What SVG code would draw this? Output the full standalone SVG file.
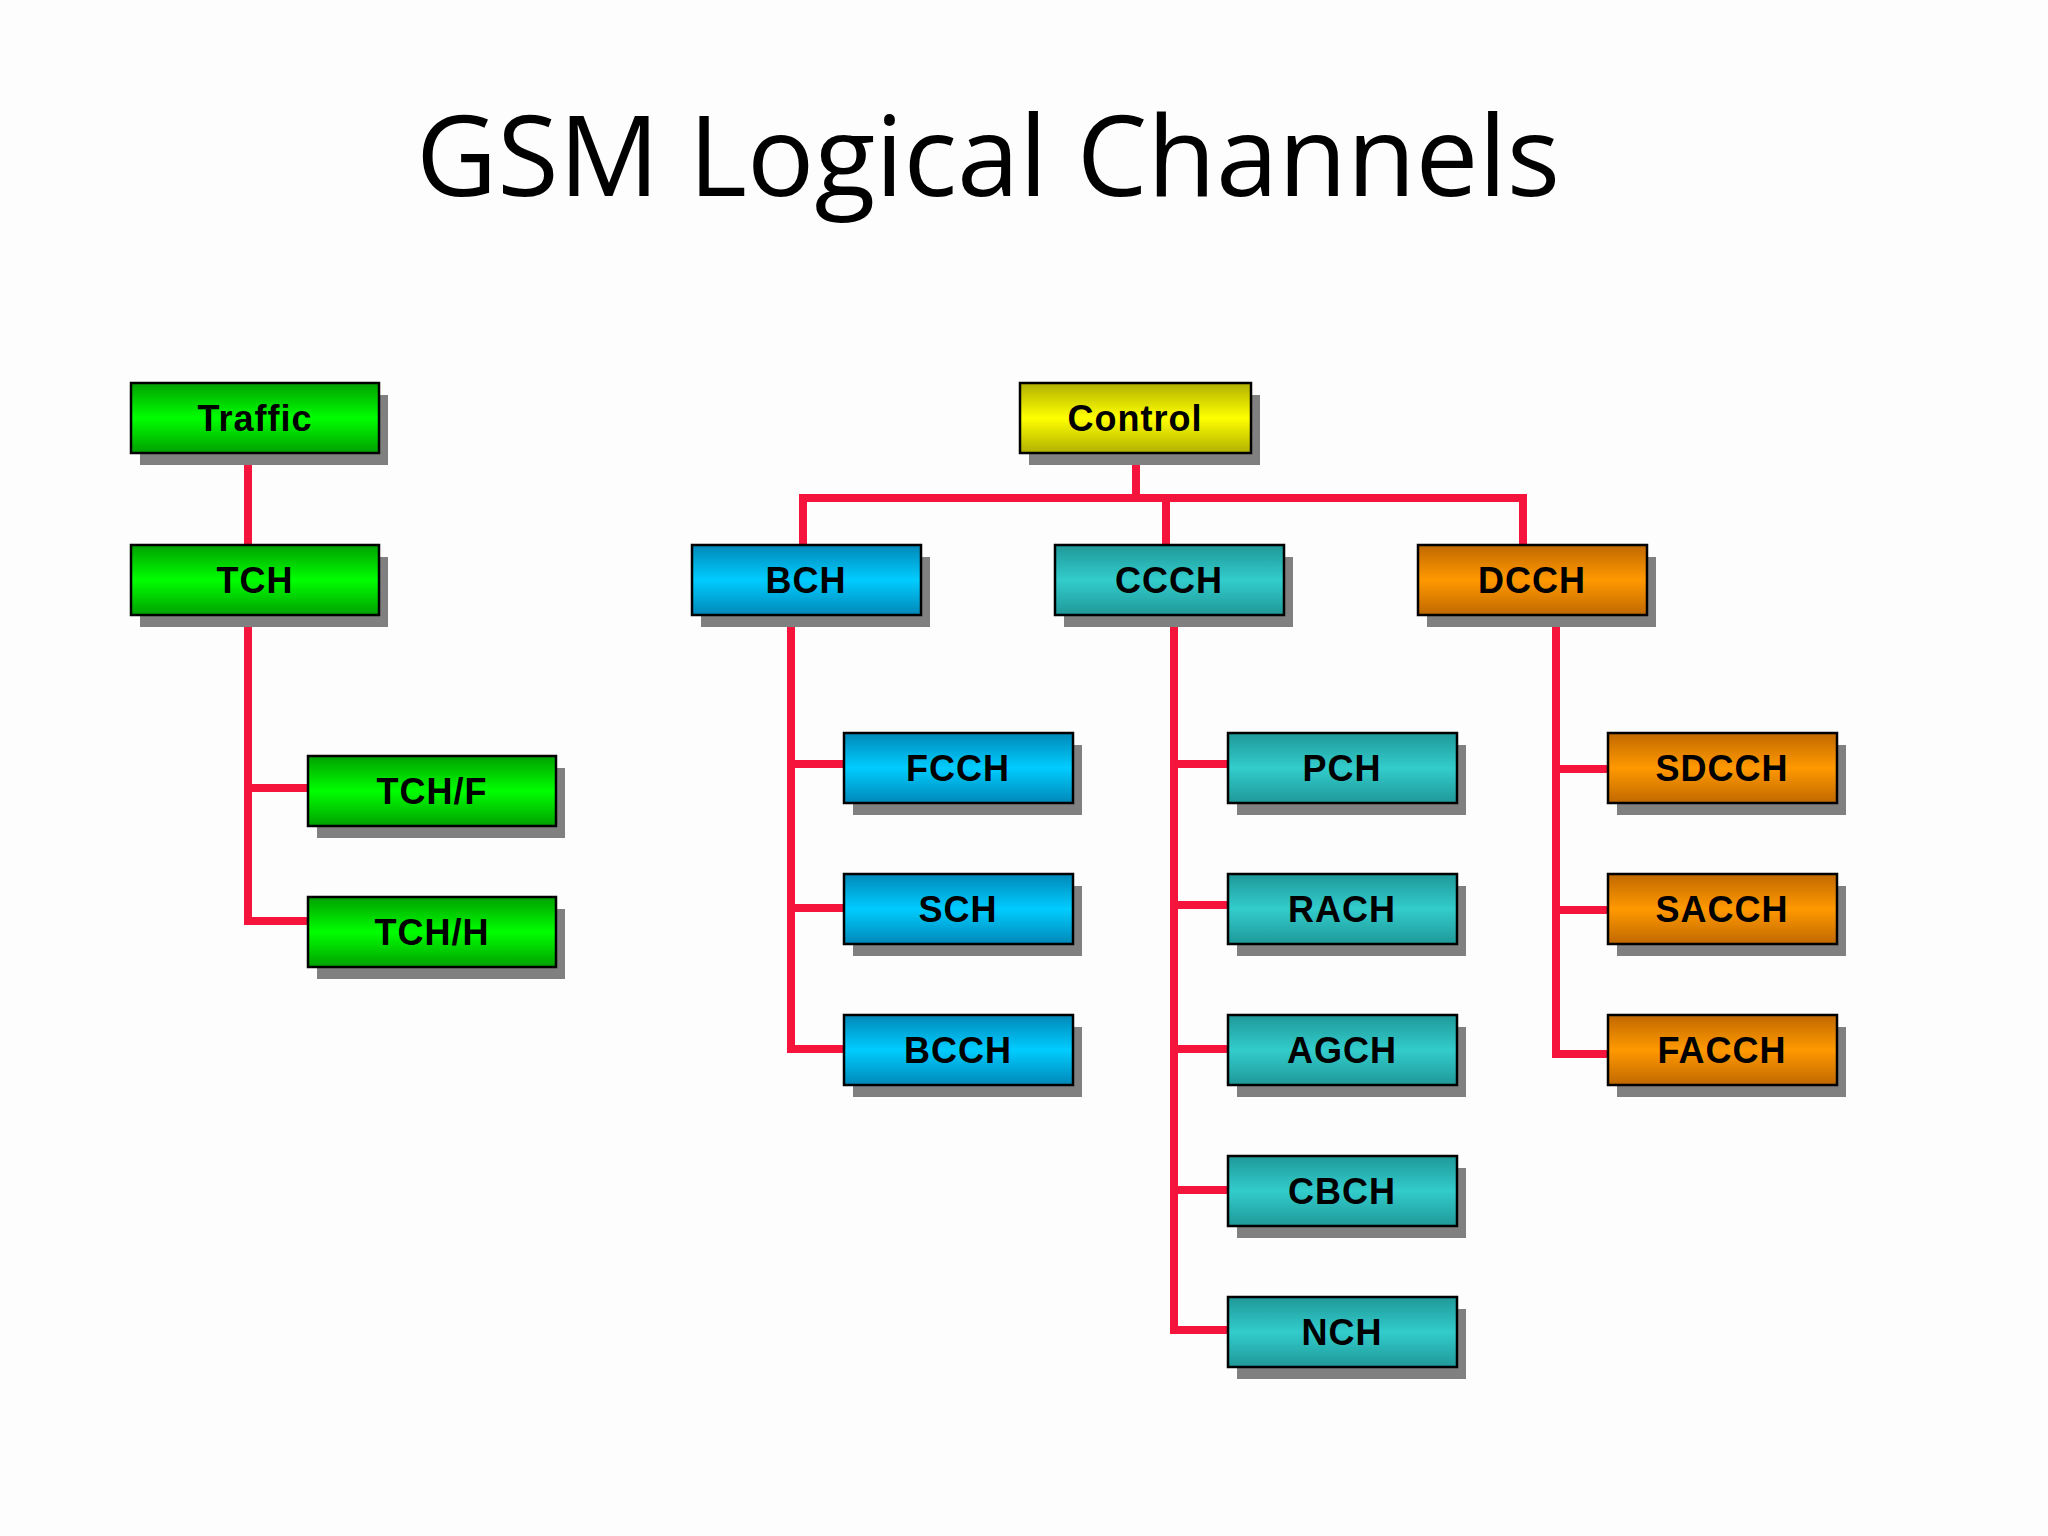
<svg xmlns="http://www.w3.org/2000/svg" width="2048" height="1536" viewBox="0 0 2048 1536">
<defs>
<linearGradient id="gG" x1="0" y1="0" x2="0" y2="1"><stop offset="0" stop-color="#00a000"/><stop offset="0.5" stop-color="#00ff00"/><stop offset="1" stop-color="#00a000"/></linearGradient>
<linearGradient id="gY" x1="0" y1="0" x2="0" y2="1"><stop offset="0" stop-color="#b0b000"/><stop offset="0.5" stop-color="#ffff00"/><stop offset="1" stop-color="#b0b000"/></linearGradient>
<linearGradient id="gB" x1="0" y1="0" x2="0" y2="1"><stop offset="0" stop-color="#0088b8"/><stop offset="0.5" stop-color="#00ccff"/><stop offset="1" stop-color="#0088b8"/></linearGradient>
<linearGradient id="gT" x1="0" y1="0" x2="0" y2="1"><stop offset="0" stop-color="#1f9898"/><stop offset="0.5" stop-color="#33cccc"/><stop offset="1" stop-color="#1f9898"/></linearGradient>
<linearGradient id="gO" x1="0" y1="0" x2="0" y2="1"><stop offset="0" stop-color="#c06800"/><stop offset="0.5" stop-color="#ff9900"/><stop offset="1" stop-color="#c06800"/></linearGradient>
</defs>
<style>
.sh{fill:#808080}
.bx{stroke:#000;stroke-width:2.5}
.lb{font-family:"Liberation Sans",Arial,sans-serif;font-weight:bold;font-size:36px;text-anchor:middle;fill:#000;letter-spacing:1px}
.c{fill:none;stroke:#f5153c;stroke-width:8}
</style>
<rect width="2048" height="1536" fill="#fdfdfd"/>
<text x="988" y="196" font-family="'Open Sans','DejaVu Sans',sans-serif" font-size="112" text-anchor="middle" fill="#000">GSM Logical Channels</text>
<g id="connectors">
<path class="c" d="M248 453V545M248 615V921H308M248 788H308"/>
<path class="c" d="M1136 453V498M803 545V498H1523V545M1166 498V545"/>
<path class="c" d="M791 615V1049H844M791 764H844M791 908H844"/>
<path class="c" d="M1174 615V1330H1228M1174 764H1228M1174 905H1228M1174 1049H1228M1174 1190H1228"/>
<path class="c" d="M1556 615V1054H1608M1556 769H1608M1556 910H1608"/>
</g>
<g id="traffic"><rect class="sh" x="140" y="395" width="248" height="70"/><rect class="bx" x="131" y="383" width="248" height="70" fill="url(#gG)"/><text class="lb" x="255" y="431">Traffic</text></g>
<g id="tch"><rect class="sh" x="140" y="557" width="248" height="70"/><rect class="bx" x="131" y="545" width="248" height="70" fill="url(#gG)"/><text class="lb" x="255" y="593">TCH</text></g>
<g id="tchf"><rect class="sh" x="317" y="768" width="248" height="70"/><rect class="bx" x="308" y="756" width="248" height="70" fill="url(#gG)"/><text class="lb" x="432" y="804">TCH/F</text></g>
<g id="tchh"><rect class="sh" x="317" y="909" width="248" height="70"/><rect class="bx" x="308" y="897" width="248" height="70" fill="url(#gG)"/><text class="lb" x="432" y="945">TCH/H</text></g>
<g id="control"><rect class="sh" x="1029" y="395" width="231" height="70"/><rect class="bx" x="1020" y="383" width="231" height="70" fill="url(#gY)"/><text class="lb" x="1135" y="431">Control</text></g>
<g id="bch"><rect class="sh" x="701" y="557" width="229" height="70"/><rect class="bx" x="692" y="545" width="229" height="70" fill="url(#gB)"/><text class="lb" x="806" y="593">BCH</text></g>
<g id="ccch"><rect class="sh" x="1064" y="557" width="229" height="70"/><rect class="bx" x="1055" y="545" width="229" height="70" fill="url(#gT)"/><text class="lb" x="1169" y="593">CCCH</text></g>
<g id="dcch"><rect class="sh" x="1427" y="557" width="229" height="70"/><rect class="bx" x="1418" y="545" width="229" height="70" fill="url(#gO)"/><text class="lb" x="1532" y="593">DCCH</text></g>
<g id="fcch"><rect class="sh" x="853" y="745" width="229" height="70"/><rect class="bx" x="844" y="733" width="229" height="70" fill="url(#gB)"/><text class="lb" x="958" y="781">FCCH</text></g>
<g id="sch"><rect class="sh" x="853" y="886" width="229" height="70"/><rect class="bx" x="844" y="874" width="229" height="70" fill="url(#gB)"/><text class="lb" x="958" y="922">SCH</text></g>
<g id="bcch"><rect class="sh" x="853" y="1027" width="229" height="70"/><rect class="bx" x="844" y="1015" width="229" height="70" fill="url(#gB)"/><text class="lb" x="958" y="1063">BCCH</text></g>
<g id="pch"><rect class="sh" x="1237" y="745" width="229" height="70"/><rect class="bx" x="1228" y="733" width="229" height="70" fill="url(#gT)"/><text class="lb" x="1342" y="781">PCH</text></g>
<g id="rach"><rect class="sh" x="1237" y="886" width="229" height="70"/><rect class="bx" x="1228" y="874" width="229" height="70" fill="url(#gT)"/><text class="lb" x="1342" y="922">RACH</text></g>
<g id="agch"><rect class="sh" x="1237" y="1027" width="229" height="70"/><rect class="bx" x="1228" y="1015" width="229" height="70" fill="url(#gT)"/><text class="lb" x="1342" y="1063">AGCH</text></g>
<g id="cbch"><rect class="sh" x="1237" y="1168" width="229" height="70"/><rect class="bx" x="1228" y="1156" width="229" height="70" fill="url(#gT)"/><text class="lb" x="1342" y="1204">CBCH</text></g>
<g id="nch"><rect class="sh" x="1237" y="1309" width="229" height="70"/><rect class="bx" x="1228" y="1297" width="229" height="70" fill="url(#gT)"/><text class="lb" x="1342" y="1345">NCH</text></g>
<g id="sdcch"><rect class="sh" x="1617" y="745" width="229" height="70"/><rect class="bx" x="1608" y="733" width="229" height="70" fill="url(#gO)"/><text class="lb" x="1722" y="781">SDCCH</text></g>
<g id="sacch"><rect class="sh" x="1617" y="886" width="229" height="70"/><rect class="bx" x="1608" y="874" width="229" height="70" fill="url(#gO)"/><text class="lb" x="1722" y="922">SACCH</text></g>
<g id="facch"><rect class="sh" x="1617" y="1027" width="229" height="70"/><rect class="bx" x="1608" y="1015" width="229" height="70" fill="url(#gO)"/><text class="lb" x="1722" y="1063">FACCH</text></g>
</svg>
